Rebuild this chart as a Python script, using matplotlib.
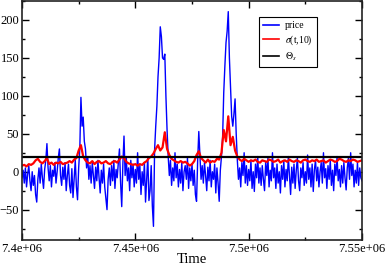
import matplotlib
matplotlib.use('Agg')
import matplotlib.pyplot as plt
import numpy as np
from matplotlib.ticker import MultipleLocator, FuncFormatter

# time window of the record
t_start = 7.4e6
t_end = 7.55e6

# price, one value per 500 time units
price = [
    -8, 2, -15, 5, -20, -3, 8, -12, -25, 0,
    -18, -5, -30, -40, -10, 5, -15, 10, -8, -22,
    3, 15, 37, 5, -12, 8, -20, 2, -6, 12,
    -15, 0, 18, 30, -5, -18, 6, -10, 12, -25,
    -5, 10, -18, -28, 4, -34, -10, 15, -20, -37,
    5, 30, 98, 60, 72, 40, 30, 5, 20, -10,
    8, -15, 12, -5, -22, 6, -12, 15, -8, -28,
    2, -15, 10, -20, -35, -50, -10, 5, -18, 8,
    -12, 15, -22, 3, -8, 12, 30, -15, -46, 10,
    47, -5, 20, -12, 5, -25, 15, -8, 10, -20,
    3, -15, 25, -10, 8, -30, 0, -18, 12, -40,
    -10, 20, -38, -25, 8, -45, -72, 29, 60, 86,
    125, 150, 191, 178, 150, 148, 155, 99, 55, 20,
    -5, 15, -18, 5, -12, 25, -8, 10, -20, 3,
    -15, 12, -25, 0, 8, -10, 18, -22, 5, -12,
    10, -18, 2, -30, -39, 15, 53, 20, -10, 8,
    -15, 12, -5, -25, 6, -12, 15, -20, 0, -10,
    10, -28, 5, -15, -39, 2, 20, 45, 104, 139,
    170, 185, 211, 150, 110, 73, 60, 76, 96, 50,
    15, -10, 5, -20, 12, -5, 25, -15, 8, -18,
    3, -12, 15, -22, 0, -26, 10, -8, 20, -15,
    5, -18, 8, -10, -25, 12, -5, 18, -20, 2,
    -12, 25, -8, 5, -22, 10, -15, 0, -28, 8,
    -10, 15, -20, 3, -12, 20, -5, -30, 6, -15,
    10, -22, 2, 18, -12, -25, 5, -8, 12, -18,
    0, -15, 22, -10, 5, -20, 10, -26, 3, 15,
    -12, 6, -20, 0, 12, -15, 25, -8, 4, -22,
    8, -10, 15, -18, 2, -25, 10, -5, 20, -12,
    3, -20, 8, -15, 12, -8, -24, 5, 18, -10,
    25, -5, 10, -20, 2, -15, 12, -18, 5, -8,
    -12,
]

# sigma(t,10), one value per 1000 time units
sigma = [
    8, 9, 7, 10, 9, 11, 15, 17, 13, 11,
    14, 18, 10, 12, 9, 12, 11, 13, 10, 11,
    12, 14, 12, 16, 18, 28, 35, 20, 15, 12,
    11, 14, 10, 13, 14, 11, 12, 14, 11, 10,
    13, 14, 12, 16, 20, 18, 13, 11, 10, 9,
    10, 8, 10, 9, 12, 14, 18, 20, 24, 30,
    35, 28, 32, 52, 30, 22, 17, 15, 13, 12,
    14, 12, 13, 11, 8, 10, 14, 22, 27, 18,
    15, 12, 16, 12, 14, 13, 17, 16, 25, 55,
    40, 73, 35, 46, 28, 20, 16, 14, 17, 15,
    13, 15, 14, 16, 13, 12, 15, 14, 13, 16,
    15, 13, 14, 16, 12, 14, 15, 13, 16, 14,
    13, 15, 14, 12, 15, 16, 14, 13, 15, 14,
    16, 13, 14, 15, 12, 14, 16, 15, 13, 14,
    17, 16, 14, 13, 15, 14, 16, 15, 13, 14,
    15,
]

theta_s = 20

plt.rcParams['font.family'] = ['Liberation Serif', 'DejaVu Serif']
plt.rcParams['mathtext.fontset'] = 'stix'

t_price = np.linspace(t_start, t_end, len(price))
t_sigma = np.linspace(t_start, t_end, len(sigma))

fig = plt.figure(figsize=(3.85, 2.66), dpi=100)
ax = fig.add_axes([22 / 385, 1 - 240 / 266, 340 / 385, 239 / 266])

ax.plot(t_price, price, color='blue', lw=1.0, label='price')
ax.plot(t_sigma, sigma, color='red', lw=1.6, label=r'$\sigma$(t,10)')
ax.axhline(theta_s, color='black', lw=1.6, label=r'$\Theta_s$')

ax.set_xlim(t_start, t_end)
ax.set_ylim(-90, 225)

ax.xaxis.set_major_locator(MultipleLocator(50000))
ax.xaxis.set_minor_locator(MultipleLocator(25000))
ax.yaxis.set_major_locator(MultipleLocator(50))
ax.yaxis.set_minor_locator(MultipleLocator(25))
ax.xaxis.set_major_formatter(FuncFormatter(lambda v, p: '{:g}'.format(v)))

ax.tick_params(which='both', direction='in', top=True, right=True,
               labelsize=9, pad=2)
ax.tick_params(which='major', length=5, width=1)
ax.tick_params(which='minor', length=2.5, width=1)
for s in ax.spines.values():
    s.set_linewidth(1.2)
    s.set_color('#222222')

ax.set_xlabel('Time', fontsize=10.5, labelpad=-1)

leg = ax.legend(loc='upper left', bbox_to_anchor=(0.697, 0.935), fontsize=7,
                fancybox=False, framealpha=1, edgecolor='black',
                handlelength=1.6, borderaxespad=0, labelspacing=0.35,
                borderpad=0.45, handletextpad=0.6)
leg.get_frame().set_linewidth(0.8)
for line in leg.get_lines():
    line.set_linewidth(1.2)

fig.savefig('out.png', dpi=100)
